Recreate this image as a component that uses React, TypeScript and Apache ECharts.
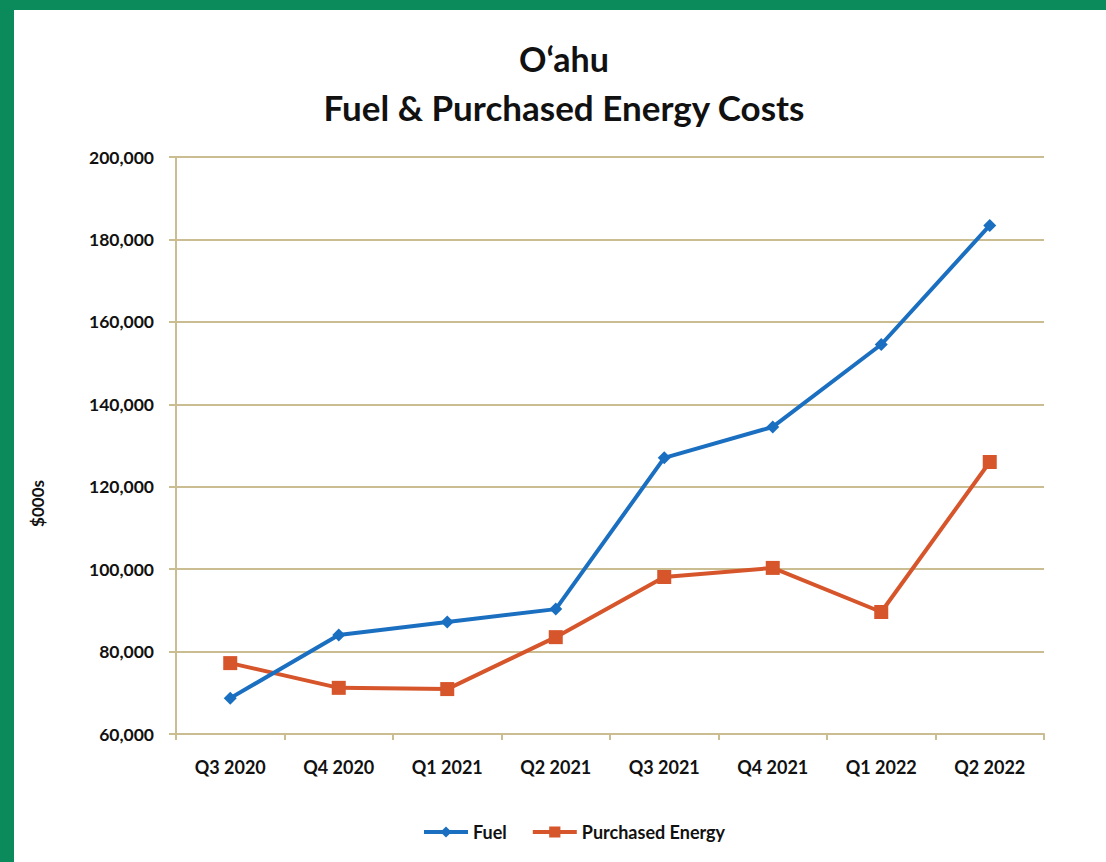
import React, { useEffect, useRef } from "react";
import * as echarts from "echarts";

const categories = ["Q3 2020", "Q4 2020", "Q1 2021", "Q2 2021", "Q3 2021", "Q4 2021", "Q1 2022", "Q2 2022"];
const fuel = [68700, 84000, 87200, 90300, 127000, 134500, 154500, 183400];
const purchasedEnergy = [77200, 71200, 70900, 83500, 98100, 100300, 89600, 126000];

const FONT = "Lato, 'Open Sans', sans-serif";
const TAN = "#cbbd92";
const BLUE = "#1b6fc0";
const ORANGE = "#d6552a";

export default function App() {
  const ref = useRef<HTMLDivElement>(null);
  useEffect(() => {
    document.body.style.margin = "0";
    if (!ref.current) return;
    const chart = echarts.init(ref.current, null, { renderer: "svg" });
    chart.setOption({
      animation: false,
      backgroundColor: "#0b8a5c",
      graphic: [
        {
          type: "rect",
          z: -10,
          silent: true,
          shape: { x: 14, y: 10, width: 1092, height: 852 },
          style: { fill: "#ffffff" },
        },
      ],
      title: [
        {
          text: "O\u2018ahu",
          left: 559,
          top: 36,
          textAlign: "center",
          textStyle: { fontFamily: FONT, fontWeight: "bold", fontSize: 34, color: "#111" },
        },
        {
          text: "Fuel & Purchased Energy Costs",
          left: 559,
          top: 84,
          textAlign: "center",
          textStyle: { fontFamily: FONT, fontWeight: "bold", fontSize: 35, color: "#111" },
        },
      ],
      legend: {
        left: 417,
        top: 818,
        itemWidth: 44,
        itemHeight: 14,
        itemGap: 24,
        lineStyle: { width: 4 },
        textStyle: { fontFamily: FONT, fontWeight: "bold", fontSize: 18, color: "#111" },
        data: [
          { name: "Fuel", itemStyle: { color: BLUE }, lineStyle: { width: 4, color: BLUE } },
          { name: "Purchased Energy", itemStyle: { color: ORANGE }, lineStyle: { width: 4, color: ORANGE } },
        ],
      },
      grid: { left: 176, right: 62, top: 157, bottom: 128 },
      xAxis: {
        type: "category",
        data: categories,
        boundaryGap: true,
        axisLine: { lineStyle: { color: TAN, width: 2 } },
        axisTick: { show: true, length: 6, lineStyle: { color: TAN, width: 2 } },
        axisLabel: { fontFamily: FONT, fontWeight: "bold", fontSize: 18, color: "#111", margin: 24 },
      },
      yAxis: {
        type: "value",
        min: 60000,
        max: 200000,
        interval: 20000,
        name: "$000s",
        nameLocation: "middle",
        nameGap: 130,
        nameRotate: 90,
        nameTextStyle: {
          fontFamily: FONT,
          fontWeight: "bold",
          fontSize: 17,
          color: "#111",
          padding: [0, 116, 0, 0],
        },
        axisLine: { show: true, lineStyle: { color: TAN, width: 2 } },
        axisTick: { show: true, length: 7, lineStyle: { color: TAN, width: 2 } },
        splitLine: { show: true, lineStyle: { color: TAN, width: 2 } },
        axisLabel: {
          fontFamily: FONT,
          fontWeight: "bold",
          fontSize: 17.5,
          color: "#111",
          margin: 22,
          formatter: (v: number) => v.toLocaleString("en-US"),
        },
      },
      series: [
        {
          name: "Fuel",
          type: "line",
          data: fuel,
          symbol: "diamond",
          symbolSize: 13,
          lineStyle: { color: BLUE, width: 4 },
          itemStyle: { color: BLUE },
          z: 3,
        },
        {
          name: "Purchased Energy",
          type: "line",
          data: purchasedEnergy,
          symbol: "rect",
          symbolSize: 14,
          lineStyle: { color: ORANGE, width: 4 },
          itemStyle: { color: ORANGE },
          z: 2,
        },
      ],
    });
    return () => chart.dispose();
  }, []);
  return <div ref={ref} style={{ position: "absolute", left: 0, top: 0, width: 1106, height: 862 }} />;
}
